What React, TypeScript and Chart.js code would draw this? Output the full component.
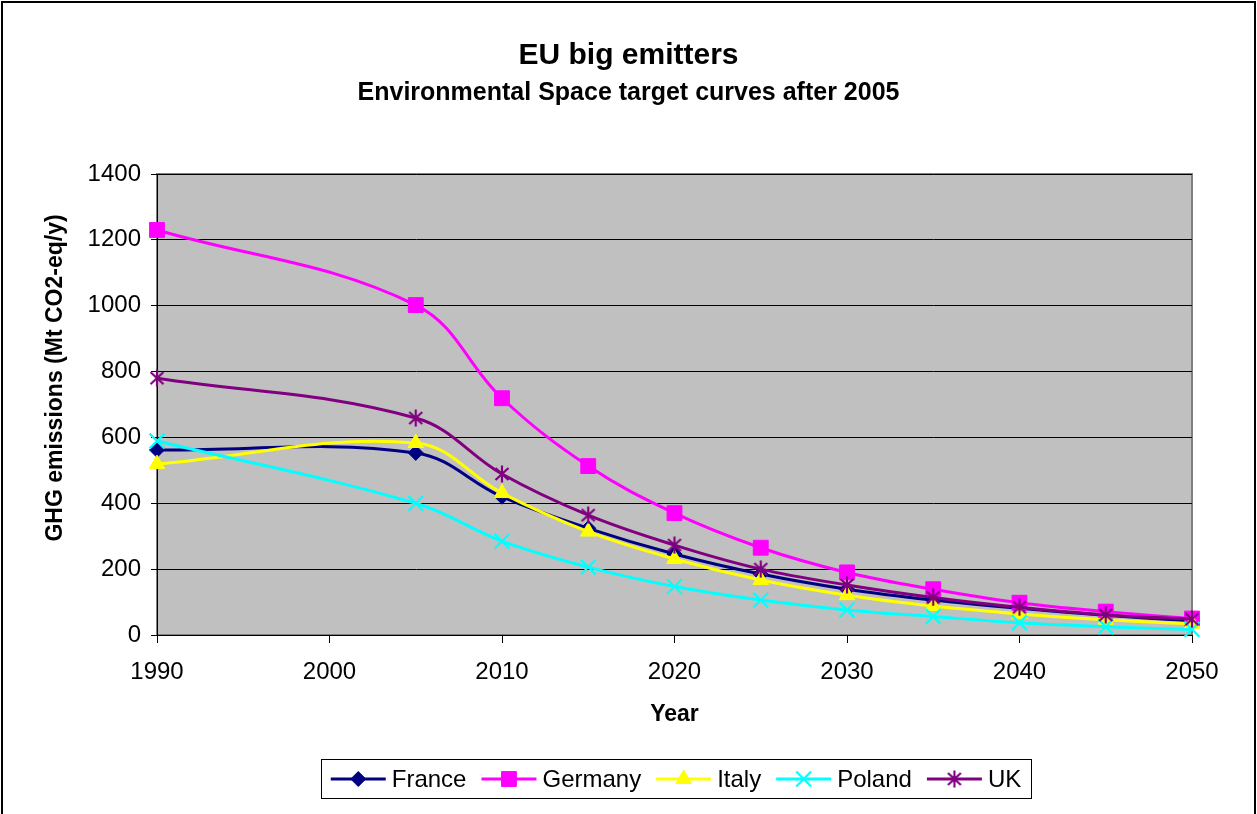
import React, { useEffect, useRef } from "react";
import { Chart, registerables } from "chart.js";
import { drawPoint } from "chart.js/helpers";

Chart.register(...registerables);

// Years with values on every curve
const years = [1990, 2005, 2010, 2015, 2020, 2025, 2030, 2035, 2040, 2045, 2050];

// GHG emissions, Mt CO2-eq per year
const france = [562, 553, 420, 324, 246, 185, 139, 106, 81, 60, 43];
const germany = [1230, 1002, 719, 513, 370, 265, 190, 139, 98, 71, 50];
const italy = [519, 583, 431, 314, 231, 167, 121, 88, 64, 46, 34];
const poland = [589, 400, 285, 206, 147, 106, 76, 56, 37, 25, 17];
const uk = [780, 659, 489, 364, 273, 200, 152, 114, 84, 61, 48];

const seriesNames = ["France", "Germany", "Italy", "Poland", "UK"];
const xTicks = [1990, 2000, 2010, 2020, 2030, 2040, 2050];

const titleText = "EU big emitters";
const subtitleText = "Environmental Space target curves after 2005";
const xTitle = "Year";
const yTitle = "GHG emissions (Mt CO2-eq/y)";

const FONT = '"Liberation Sans", Arial, sans-serif';

function starMarker(color: string): HTMLCanvasElement {
  const c = document.createElement("canvas");
  c.width = 18;
  c.height = 18;
  const g = c.getContext("2d")!;
  g.strokeStyle = color;
  g.lineWidth = 2.2;
  g.beginPath();
  g.moveTo(2.5, 3);
  g.lineTo(15.5, 15);
  g.moveTo(15.5, 3);
  g.lineTo(2.5, 15);
  g.moveTo(9, 0.5);
  g.lineTo(9, 17.5);
  g.stroke();
  return c;
}

export default function App() {
  const ref = useRef<HTMLCanvasElement | null>(null);

  useEffect(() => {
    if (!ref.current) return;
    const toPts = (vals: number[]) => vals.map((v, i) => ({ x: years[i], y: v }));

    const styles = [
      { color: "#000080", pointStyle: "rectRot", radius: 7.5, bw: 1 },
      { color: "#FF00FF", pointStyle: "rect", radius: 10.5, bw: 1 },
      { color: "#FFFF00", pointStyle: "triangle", radius: 9, bw: 1 },
      { color: "#00FFFF", pointStyle: "crossRot", radius: 10.5, bw: 2.2 },
      { color: "#800080", pointStyle: starMarker("#800080") as any, radius: 9, bw: 1 },
    ];
    const values = [france, germany, italy, poland, uk];

    const datasets = values.map((vals, i) => ({
      label: seriesNames[i],
      data: toPts(vals),
      borderColor: styles[i].color,
      backgroundColor: styles[i].color,
      borderWidth: 3,
      tension: 0.38,
      pointStyle: styles[i].pointStyle,
      pointRadius: styles[i].radius,
      pointBorderWidth: styles[i].bw,
      pointBackgroundColor: styles[i].color,
      pointBorderColor: styles[i].color,
      order: 5 - i,
      clip: false as any,
    }));

    const decor = {
      id: "decor",
      beforeDraw(chart: any) {
        const { ctx, chartArea: a, width, height } = chart;
        ctx.save();
        ctx.fillStyle = "#ffffff";
        ctx.fillRect(0, 0, width, height);
        ctx.fillStyle = "#C0C0C0";
        ctx.fillRect(a.left, a.top, a.right - a.left, a.bottom - a.top);
        ctx.strokeStyle = "#808080";
        ctx.lineWidth = 2;
        ctx.strokeRect(a.left, a.top, a.right - a.left, a.bottom - a.top);
        // outer frame
        ctx.strokeStyle = "#000000";
        ctx.lineWidth = 2;
        ctx.strokeRect(2, 2, width - 4, height + 10);
        ctx.restore();
      },
      afterDraw(chart: any) {
        const { ctx, chartArea: a, width } = chart;
        ctx.save();
        ctx.fillStyle = "#000";
        ctx.textAlign = "center";
        ctx.textBaseline = "middle";
        ctx.font = `bold 30px ${FONT}`;
        ctx.fillText(titleText, width / 2, 56);
        ctx.font = `bold 25px ${FONT}`;
        ctx.fillText(subtitleText, width / 2, 93);

        ctx.font = `bold 23px ${FONT}`;
        ctx.fillText(xTitle, (a.left + a.right) / 2, 715);
        ctx.save();
        ctx.translate(56, 378);
        ctx.rotate(-Math.PI / 2);
        ctx.fillText(yTitle, 0, 0);
        ctx.restore();

        // legend
        const box = { l: 321, t: 759, r: 1031, b: 798 };
        ctx.strokeStyle = "#000";
        ctx.lineWidth = 1;
        ctx.strokeRect(box.l + 0.5, box.t + 0.5, box.r - box.l, box.b - box.t);
        ctx.font = `24px ${FONT}`;
        const lineLen = 55;
        const gapText = 6;
        const gapItem = 15;
        const widths = seriesNames.map((n) => ctx.measureText(n).width);
        const total =
          widths.reduce((s, w) => s + w, 0) +
          seriesNames.length * (lineLen + gapText) +
          (seriesNames.length - 1) * gapItem;
        let x = (box.l + box.r) / 2 - total / 2;
        const cy = (box.t + box.b) / 2 + 0.5;
        ctx.textAlign = "left";
        seriesNames.forEach((name, i) => {
          const st = styles[i];
          ctx.strokeStyle = st.color;
          ctx.lineWidth = 3;
          ctx.beginPath();
          ctx.moveTo(x, cy);
          ctx.lineTo(x + lineLen, cy);
          ctx.stroke();
          ctx.fillStyle = st.color;
          ctx.lineWidth = st.bw;
          drawPoint(ctx, { pointStyle: st.pointStyle, radius: st.radius, borderWidth: st.bw, rotation: 0 } as any, x + lineLen / 2, cy);
          x += lineLen + gapText;
          ctx.fillStyle = "#000";
          ctx.fillText(name, x, cy + 1);
          x += widths[i] + gapItem;
        });
        ctx.restore();
      },
    };

    const chart = new Chart(ref.current, {
      type: "line",
      data: { datasets: datasets as any },
      options: {
        animation: false,
        responsive: false,
        devicePixelRatio: 1,
        layout: { padding: { top: 174, right: 65, left: 0, bottom: 0 } },
        plugins: { legend: { display: false }, title: { display: false }, tooltip: { enabled: false } },
        scales: {
          x: {
            type: "linear",
            min: 1990,
            max: 2050,
            afterBuildTicks: (s: any) => {
              s.ticks = xTicks.map((v) => ({ value: v }));
            },
            afterFit: (s: any) => {
              s.height = 179;
            },
            ticks: {
              color: "#000",
              font: { family: FONT, size: 24 },
              padding: 15,
              maxRotation: 0,
              autoSkip: false,
              callback: (v: any) => String(v),
            },
            grid: { drawOnChartArea: false, drawTicks: true, tickLength: 8, color: "#000", lineWidth: 1 },
            border: { color: "#000", width: 1 },
          },
          y: {
            min: 0,
            max: 1400,
            ticks: {
              stepSize: 200,
              color: "#000",
              font: { family: FONT, size: 24 },
              padding: 10,
              callback: (v: any) => String(v),
            },
            afterFit: (s: any) => {
              s.width = 157;
            },
            grid: { color: "#000", lineWidth: 1, tickLength: 6 },
            border: { color: "#000", width: 1 },
          },
        },
      },
      plugins: [decor],
    });
    return () => chart.destroy();
  }, []);

  return (
    <div style={{ position: "absolute", left: 0, top: 0, width: 1257, height: 814, background: "#fff" }}>
      <canvas ref={ref} width={1257} height={814} />
    </div>
  );
}
